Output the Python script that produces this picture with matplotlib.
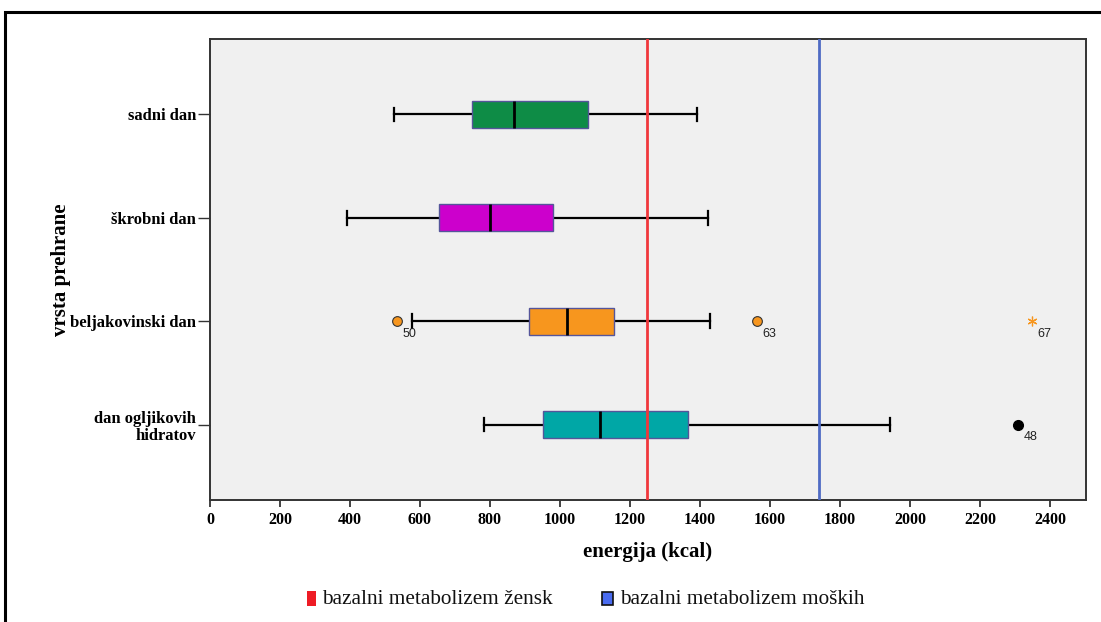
import matplotlib
matplotlib.use("Agg")
import matplotlib.pyplot as plt
from matplotlib.patches import Rectangle
import numpy as np

# Diet types (top to bottom) and five-number summaries of daily energy intake
categories = ["sadni dan", "škrobni dan", "beljakovinski dan", "dan ogljikovih\nhidratov"]
whisker_low = [526, 391, 577, 783]
q1 = [749, 654, 911, 951]
median = [869, 800, 1020, 1114]
q3 = [1080, 980, 1154, 1366]
whisker_high = [1391, 1423, 1429, 1943]
box_colors = ["#0E8C46", "#CC00CC", "#F7961E", "#00A7A6"]

# Outlying cases: (category index, value, case id, kind)
outlier_cat = [2, 2, 2, 3]
outlier_val = [534, 1563, 2349, 2309]
outlier_id = ["50", "63", "67", "48"]
outlier_kind = ["circle", "circle", "extreme", "circle"]
outlier_color = ["#F7961E", "#F7961E", "#F7961E", "#000000"]

# Basal metabolic rate reference lines
bmr_women = 1250
bmr_men = 1740
legend_labels = ["bazalni metabolizem žensk", "bazalni metabolizem moških"]

xticks = list(range(0, 2401, 200))

serif = "Liberation Serif"
sans = "Liberation Sans"

fig = plt.figure(figsize=(11.01, 6.22), dpi=100)
W, H = 1101, 622
ax = fig.add_axes([210 / W, 1 - 500 / H, (1086 - 210) / W, (500 - 39) / H])
ax.set_facecolor("#F0F0F0")

positions = np.arange(1, len(categories) + 1)
stats = []
for i in range(len(categories)):
    stats.append(dict(whislo=whisker_low[i], q1=q1[i], med=median[i], q3=q3[i],
                      whishi=whisker_high[i], fliers=[]))

bp = ax.bxp(stats, positions=positions, vert=False, widths=0.26, patch_artist=True,
            showfliers=False,
            boxprops=dict(edgecolor="#55559A", linewidth=1.0),
            medianprops=dict(color="black", linewidth=2.0),
            whiskerprops=dict(color="black", linewidth=1.6),
            capprops=dict(color="black", linewidth=1.6),
            capwidths=0.13)
for patch, c in zip(bp["boxes"], box_colors):
    patch.set_facecolor(c)
    patch.set_zorder(3)
for m in bp["medians"]:
    m.set_zorder(4)

# Reference lines
ax.axvline(bmr_women, color="#F0373C", linewidth=2.0, zorder=5)
ax.axvline(bmr_men, color="#4F6BC4", linewidth=2.0, zorder=5)

# Outliers and their case labels
for c, v, lab, kind, col in zip(outlier_cat, outlier_val, outlier_id, outlier_kind, outlier_color):
    y = positions[c]
    if kind == "extreme":
        ax.plot(v, y, marker=(6, 2, 0), markersize=7, color=col, markeredgewidth=0.9, zorder=6)
    elif col == "#000000":
        ax.plot(v, y, marker="o", markersize=7, color="black", zorder=6)
    else:
        ax.plot(v, y, marker="o", markersize=7, markerfacecolor=col,
                markeredgecolor="#333333", markeredgewidth=0.8, zorder=6)
    ax.annotate(lab, (v, y), xytext=(4, -5), textcoords="offset points",
                ha="left", va="top", fontsize=9, family=sans, color="#222222")

ax.set_xlim(0, 2503)
ax.set_ylim(4.73, 0.27)
ax.set_xticks(xticks)
ax.set_xticklabels([str(t) for t in xticks], fontsize=11.5, family=serif, fontweight="bold")
ax.set_yticks(positions)
ax.set_yticklabels(categories, fontsize=12, family=serif, fontweight="bold",
                   multialignment="right", linespacing=1.15)
ax.tick_params(axis="x", direction="out", length=5, width=1.3, color="#333333", pad=4)
ax.tick_params(axis="y", direction="out", length=9, width=1.0, color="#333333", pad=1)
for s in ax.spines.values():
    s.set_color("#333333")
    s.set_linewidth(1.4)

ax.set_xlabel("energija (kcal)", fontsize=15, family=serif, fontweight="bold", labelpad=10)
fig.text(61 / W, 1 - 270 / H, "vrsta prehrane", rotation=90, ha="center", va="center",
         fontsize=15, family=serif, fontweight="bold")

# Legend drawn as squares with labels below the plot
fig.patches.append(Rectangle((307 / W, 1 - 606 / H), 9 / W, 15 / H, transform=fig.transFigure,
                             facecolor="#EE1C25", edgecolor="none"))
fig.text(322 / W, 1 - 599 / H, legend_labels[0], ha="left", va="center",
         fontsize=15.3, family=serif, color="#111111")
fig.patches.append(Rectangle((602 / W, 1 - 605 / H), 11 / W, 13 / H, transform=fig.transFigure,
                             facecolor="#4A6CF0", edgecolor="#111111", linewidth=1.2))
fig.text(620 / W, 1 - 599 / H, legend_labels[1], ha="left", va="center",
         fontsize=15.3, family=serif, color="#111111")

# Outer frame
fig.patches.append(Rectangle((5 / W, -0.05), 1.1, 1 - 12 / H + 0.05, transform=fig.transFigure,
                             facecolor="none", edgecolor="black", linewidth=2.2))

fig.savefig("out.png", dpi=100)
